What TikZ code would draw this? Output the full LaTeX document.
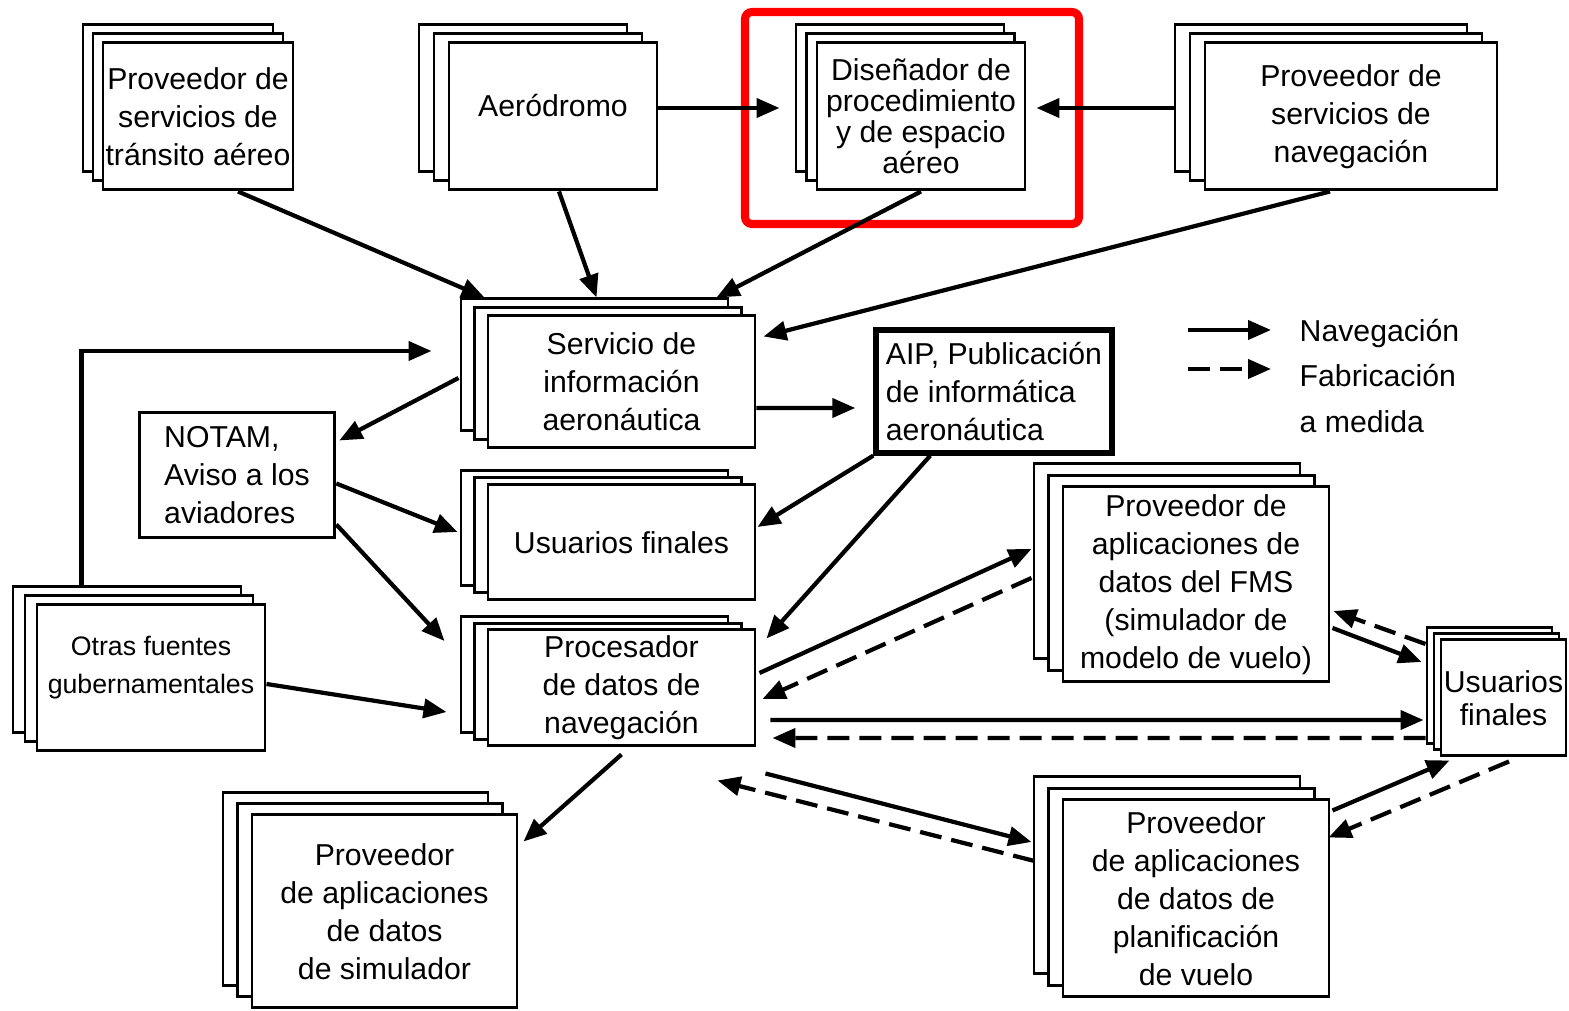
\documentclass[tikz,border=0pt]{standalone}
\usepackage{fontspec}
\setmainfont{Liberation Sans}
\usetikzlibrary{arrows.meta,calc,shadows}

\begin{document}
\begin{tikzpicture}[
  txt/.style={font=\fontsize{8.6}{10.8}\selectfont},
  caja/.style={draw, line width=0.85pt, fill=white, align=center, inner sep=0.5pt, txt},
  pila/.style 2 args={
    general shadow={shadow xshift=-2*#1cm, shadow yshift=2*#2cm, draw=black, fill=white, line width=0.85pt},
    general shadow={shadow xshift=-#1cm, shadow yshift=#2cm, draw=black, fill=white, line width=0.85pt}},
  nav/.style={line width=1.2pt, -{Triangle[length=0.23cm,width=0.19cm]}},
  fab/.style={nav, dash pattern=on 0.22cm off 0.1cm}]
\useasboundingbox (0,0) rectangle (15.69,-10.11);

% fila superior
\node[caja, pila={0.10}{0.09}, minimum width=1.90cm, minimum height=1.47cm] (atsprov) at (1.98,-1.165) {Proveedor de\\servicios de\\tránsito aéreo};
\node[caja, pila={0.15}{0.09}, minimum width=2.08cm, minimum height=1.47cm] (aerodromo) at (5.53,-1.165) {Aeródromo\rule[-0.22cm]{0pt}{0pt}};
\node[caja, pila={0.105}{0.09}, minimum width=2.08cm, minimum height=1.47cm, font=\fontsize{8.6}{8.8}\selectfont] (disenador) at (9.21,-1.165) {Diseñador de\\procedimiento\\y de espacio\\aéreo};
\node[caja, pila={0.15}{0.09}, minimum width=2.92cm, minimum height=1.47cm] (navprov) at (13.51,-1.165) {Proveedor de\\servicios de\\navegación};
\draw[red, line width=2.3pt, rounded corners=2pt] (7.45,-0.12) rectangle (10.79,-2.24);

% centro
\node[caja, pila={0.135}{0.085}, minimum width=2.67cm, minimum height=1.32cm] (ais) at (6.215,-3.82) {Servicio de\\información\\aeronáutica};
\node[caja, align=left, inner xsep=0.25cm, minimum height=1.25cm] (notam) at (2.37,-4.755) {NOTAM,\\Aviso a los\\aviadores};
\node[caja, line width=1.5pt, align=left, inner xsep=0.1cm, minimum height=1.23cm] (aip) at (9.94,-3.915) {AIP, Publicación\\de informática\\aeronáutica};
\node[caja, pila={0.135}{0.07}, minimum width=2.67cm, minimum height=1.15cm] (usuarios) at (6.215,-5.425) {Usuarios finales};
\node[caja, pila={0.135}{0.065}, minimum width=2.67cm, minimum height=1.16cm] (procesador) at (6.215,-6.88) {Procesador\\de datos de\\navegación};
\node[caja, pila={0.12}{0.09}, minimum width=2.28cm, minimum height=1.46cm, font=\fontsize{7.6}{10.8}\selectfont] (otras) at (1.51,-6.78) {Otras fuentes\\gubernamentales\rule[-0.27cm]{0pt}{0pt}};
\node[caja, pila={0.145}{0.11}, minimum width=2.65cm, minimum height=1.93cm] (simprov) at (3.845,-9.115) {Proveedor\\de aplicaciones\\de datos\\de simulador};

% derecha
\node[caja, pila={0.145}{0.115}, minimum width=2.66cm, minimum height=1.95cm] (fmsprov) at (11.96,-5.845) {Proveedor de\\aplicaciones de\\datos del FMS\\(simulador de\\modelo de vuelo)};
\node[caja, pila={0.145}{0.115}, minimum width=2.66cm, minimum height=1.97cm] (planprov) at (11.96,-8.985) {Proveedor\\de aplicaciones\\de datos de\\planificación\\de vuelo};
\node[caja, pila={0.07}{0.06}, inner sep=0pt, minimum width=1.25cm, minimum height=1.16cm, font=\fontsize{8.6}{9.4}\selectfont] (finales) at (15.035,-6.98) {Usuarios\\finales};

% leyenda
\node[txt, font=\fontsize{8.6}{13}\selectfont, align=left, inner sep=0pt, anchor=west] (leyenda) at (12.99,-3.76) {Navegación\\Fabricación\\a medida};
\draw[nav] ($(leyenda.west)+(-1.11,0.46)$) -- ($(leyenda.west)+(-0.28,0.46)$);
\draw[fab] ($(leyenda.west)+(-1.11,0.07)$) -- ($(leyenda.west)+(-0.28,0.07)$);

% flechas
\draw[nav] ($(atsprov.south)+(0.40,0)$) -- ($(ais.north west)+(-0.02,0.17)$);
\draw[nav] ($(aerodromo.south)+(0.06,0)$) -- ($(ais.north west)+(1.10,0.17)$);
\draw[nav] (disenador.south) -- ($(ais.north west)+(2.30,0.17)$);
\draw[nav] ($(navprov.south)+(-0.21,0)$) -- ($(ais.north east)+(0.07,-0.22)$);
\draw[nav] ($(aerodromo.east)+(0,0.085)$) -- ($(disenador.west)+(-0.36,0.085)$);
\draw[nav] ($(navprov.west)+(-0.30,0.085)$) -- ($(disenador.east)+(0.10,0.085)$);
\draw[nav] ($(otras.north west)+(0.46,0.18)$) |- ($(ais.west)+(-0.55,0.31)$);
\draw[nav] ($(ais.west)+(-0.28,0.04)$) -- ($(notam.north east)+(0.03,-0.29)$);
\draw[nav] ($(ais.east)+(0,-0.26)$) -- ($(aip.west)+(-0.18,-0.165)$);
\draw[nav] ($(notam.east)+(0,-0.08)$) -- ($(usuarios.west)+(-0.29,0.105)$);
\draw[nav] ($(notam.east)+(0,-0.49)$) -- ($(procesador.west)+(-0.42,0.47)$);
\draw[nav] ($(otras.east)+(0,-0.06)$) -- ($(procesador.west)+(-0.40,-0.24)$);
\draw[nav] (aip.south west) -- ($(usuarios.east)+(0.01,0.155)$);
\draw[nav] ($(aip.south west)+(0.57,0)$) -- ($(procesador.north east)+(0.10,-0.10)$);
\draw[nav] ($(procesador.east)+(0.03,0.15)$) -- ($(fmsprov.west)+(-0.30,0.355)$);
\draw[fab] ($(fmsprov.west)+(-0.30,0.065)$) -- ($(procesador.east)+(0.06,-0.11)$);
\draw[nav] ($(procesador.east)+(0.14,-0.32)$) -- ($(finales.west)+(-0.16,-0.22)$);
\draw[fab] ($(finales.west)+(-0.14,-0.40)$) -- ($(procesador.east)+(0.16,-0.50)$);
\draw[nav] ($(fmsprov.east)+(0.02,-0.435)$) -- ($(finales.west)+(-0.18,0.36)$);
\draw[fab] ($(finales.west)+(-0.14,0.54)$) -- ($(fmsprov.east)+(0.03,-0.265)$);
\draw[nav] ($(planprov.north east)+(0.02,-0.12)$) -- ($(finales.south west)+(0.10,-0.03)$);
\draw[fab] ($(finales.south)+(0.055,-0.04)$) -- ($(planprov.north east)+(-0.02,-0.39)$);
\draw[nav] ($(procesador.south east)+(0.09,-0.26)$) -- ($(planprov.west)+(-0.30,0.565)$);
\draw[fab] ($(planprov.west)+(-0.27,0.375)$) -- ($(procesador.south east)+(-0.39,-0.33)$);
\draw[nav] ($(procesador.south)+(0,-0.07)$) -- ($(simprov.north east)+(0.05,-0.28)$);
\end{tikzpicture}
\end{document}
